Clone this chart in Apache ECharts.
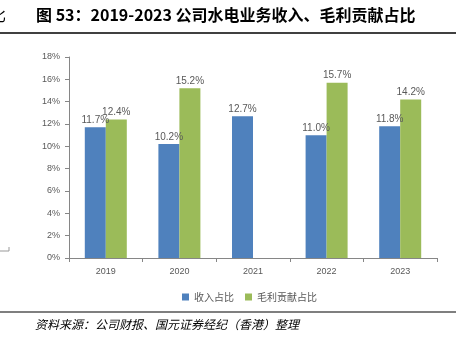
<!DOCTYPE html>
<html><head><meta charset="utf-8">
<script src="https://cdn.jsdelivr.net/npm/echarts@6/dist/echarts.min.js"></script>
<style>html,body{margin:0;padding:0;background:#fff}#c{width:456px;height:337px}</style>
</head><body><div id="c"></div>
<script>
const categories = ['2019','2020','2021','2022','2023'];
const revenueShare = [11.7, 10.2, 12.7, 11.0, 11.8];
const grossProfitShare = [12.4, 15.2, null, 15.7, 14.2];
const seriesNames = ['收入占比','毛利贡献占比'];
const titleText = '图 53：2019-2023 公司水电业务收入、毛利贡献占比';
const sourceText = '资料来源：公司财报、国元证券经纪（香港）整理';

const chart = echarts.init(document.getElementById('c'), null, {renderer:'canvas'});
const lbl = {show:true, position:'top', distance:2, fontSize:10, color:'#595959', fontFamily:'Arial, Liberation Sans',
  formatter: p => p.value == null ? '' : p.value.toFixed(1) + '%'};
chart.setOption({
  animation:false,
  grid:{left:69, right:19, top:57, bottom:79},
  legend:{top:287, left:177, itemWidth:7, itemHeight:7, itemGap:11, icon:'rect',
    textStyle:{fontSize:10, color:'#595959', fontFamily:'Noto Sans CJK SC'}, data:seriesNames},
  xAxis:{type:'category', data:categories,
    axisLine:{lineStyle:{color:'#868686'}},
    axisTick:{show:true, alignWithLabel:false, length:4, lineStyle:{color:'#868686'}},
    axisLabel:{fontSize:9, color:'#595959', margin:9, fontFamily:'Arial, Liberation Sans'}},
  yAxis:{type:'value', min:0, max:18, interval:2,
    axisLine:{show:true, lineStyle:{color:'#868686'}},
    axisTick:{show:true, length:4, lineStyle:{color:'#868686'}},
    splitLine:{show:false},
    axisLabel:{fontSize:9, color:'#595959', margin:9, formatter:'{value}%', fontFamily:'Arial, Liberation Sans'}},
  series:[
    {name:seriesNames[0], type:'bar', data:revenueShare, barWidth:21, barGap:'0%', itemStyle:{color:'#4f81bd'}, label:lbl},
    {name:seriesNames[1], type:'bar', data:grossProfitShare, barWidth:21, itemStyle:{color:'#9bbb59'}, label:lbl}
  ],
  graphic:[
    {type:'text', left:36, top:7, style:{text:titleText, fontSize:16, fontWeight:'bold', fill:'#000', fontFamily:'Noto Sans CJK SC'}},
    {type:'text', left:-10, top:7, style:{text:'比', fontSize:16, fill:'#000', fontFamily:'Noto Sans CJK SC'}},
    {type:'line', shape:{x1:0,y1:33,x2:456,y2:33}, style:{stroke:'#000', lineWidth:1.5}},
    {type:'polyline', shape:{points:[[9,247],[9,251],[0,251]]}, style:{stroke:'#999', lineWidth:1, fill:null}},
    {type:'line', shape:{x1:0,y1:312,x2:456,y2:312}, style:{stroke:'#000', lineWidth:1.2}},
    {type:'text', left:35, top:318, style:{text:sourceText, fontSize:12, fontStyle:'italic', fill:'#000', fontFamily:'Noto Sans CJK SC'}}
  ]
});
</script></body></html>
